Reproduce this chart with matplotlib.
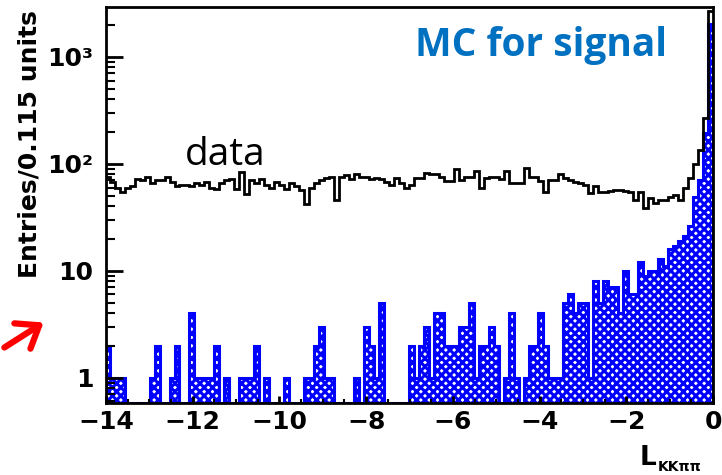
import numpy as np
import matplotlib
matplotlib.use('Agg')
import matplotlib.pyplot as plt
from matplotlib.patches import FancyArrowPatch
from matplotlib.ticker import MultipleLocator, LogLocator, NullFormatter

# histogram contents, 0.115 wide bins ending at L = 0
bin_width = 0.115
data_counts = [
    75, 68, 60, 55, 60, 62, 72, 70, 76, 66,
    70, 70, 75, 68, 62, 64, 64, 62, 66, 64,
    68, 60, 58, 66, 70, 72, 58, 84, 52, 70,
    66, 72, 64, 60, 68, 64, 58, 66, 62, 57,
    42, 60, 66, 70, 74, 76, 46, 76, 78, 72,
    80, 76, 76, 72, 74, 72, 68, 64, 74, 66,
    60, 63, 73, 73, 82, 80, 80, 76, 69, 69,
    90, 70, 75, 75, 85, 59, 73, 75, 75, 72,
    85, 66, 66, 66, 91, 76, 76, 69, 55, 70,
    70, 80, 73, 70, 68, 66, 64, 53, 62, 55,
    55, 56, 57, 57, 56, 55, 46, 55, 39, 48,
    43, 46, 46, 49, 51, 46, 59, 73, 100, 135,
    267, 2700,
]
mc_counts = [
    2, 1, 1, 1, 0, 0, 0, 0, 0, 1,
    2, 0, 0, 1, 2, 0, 0, 4, 1, 1,
    1, 1, 2, 0, 1, 0, 0, 1, 1, 1,
    2, 0, 1, 0, 0, 0, 1, 0, 0, 0,
    1, 1, 2, 3, 1, 1, 0, 0, 0, 0,
    1, 0, 3, 2, 1, 5, 0, 0, 0, 0,
    0, 2, 1, 2, 3, 1, 4, 4, 2, 2,
    2, 3, 3, 5, 1, 2, 2, 3, 2, 0,
    1, 4, 1, 0, 1, 2, 2, 4, 2, 1,
    1, 1, 5, 6, 4, 5, 5, 1, 8, 5,
    8, 7, 7, 4, 10, 6, 6, 12, 9, 10,
    10, 13, 11, 16, 17, 19, 21, 26, 49, 70,
    193, 2050,
]
x_ticks = [-14, -12, -10, -8, -6, -4, -2, 0]
y_ticks = [1, 10, 100, 1000]
y_tick_labels = ['1', '10', '10²', '10³']

n_bins = len(data_counts)
edges = -bin_width * np.arange(n_bins, -1, -1)
ymin, ymax = 0.58, 2930

plt.rcParams['font.family'] = 'DejaVu Sans'
plt.rcParams['hatch.linewidth'] = 2.2

fig = plt.figure(figsize=(7.22, 4.75), dpi=100)
ax = fig.add_axes([106 / 722, 72 / 475, 607 / 722, 396 / 475])

# signal MC: hatched blue fill plus outline; empty bins drop to the frame
mc = np.array(mc_counts, dtype=float)
mc_draw = np.where(mc > 0, mc, ymin)
ax.stairs(mc_draw, edges, baseline=ymin, fill=True, facecolor='white',
          edgecolor='#0000ff', hatch='xxxx', linewidth=0)
ax.stairs(mc_draw, edges, baseline=ymin, color='#0000ff', linewidth=2.2)

# data
ax.stairs(data_counts, edges, baseline=None, color='black', linewidth=2)

ax.set_yscale('log')
ax.set_xlim(-14, 0)
ax.set_ylim(ymin, ymax)

ax.set_xticks(x_ticks)
ax.xaxis.set_minor_locator(MultipleLocator(0.5))
ax.set_yticks(y_ticks, y_tick_labels)
ax.yaxis.set_minor_locator(LogLocator(base=10, subs=np.arange(2, 10)))
ax.yaxis.set_minor_formatter(NullFormatter())

ax.tick_params(which='both', direction='in', top=False, right=False)
ax.tick_params(axis='y', which='major', length=12, width=2, labelsize=18, pad=9)
ax.tick_params(axis='y', which='minor', length=6.5, width=1.5)
ax.tick_params(axis='x', which='major', length=5, width=2, labelsize=18, pad=5)
ax.tick_params(axis='x', which='minor', length=3, width=1.5)
for lbl in ax.get_xticklabels() + ax.get_yticklabels():
    lbl.set_fontweight('bold')

for sp in ax.spines.values():
    sp.set_linewidth(2)

fig.text(30 / 722, 1 - 10 / 475, 'Entries/0.115 units', rotation=90,
         ha='center', va='top', fontsize=18, fontweight='bold')
fig.text(640 / 722, 10 / 475, 'L', fontsize=19, fontweight='bold',
         va='baseline', ha='left')
fig.text(658 / 722, 4 / 475, 'KKππ', fontsize=10, fontweight='bold',
         va='baseline', ha='left')

ax.text(0.130, 0.601, 'data', transform=ax.transAxes, fontsize=28,
        family='Open Sans', va='baseline', ha='left')
ax.text(0.509, 0.876, 'MC for signal', transform=ax.transAxes, fontsize=28,
        family='Open Sans', fontweight='bold', color='#0070c0',
        va='baseline', ha='left')

arrow = FancyArrowPatch((2 / 722, 1 - 349 / 475), (46 / 722, 1 - 321 / 475),
                        transform=fig.transFigure, arrowstyle='->,head_length=0.6,head_width=0.45',
                        mutation_scale=24, color='red', linewidth=4.5)
fig.add_artist(arrow)

fig.savefig('out.png', dpi=100)
